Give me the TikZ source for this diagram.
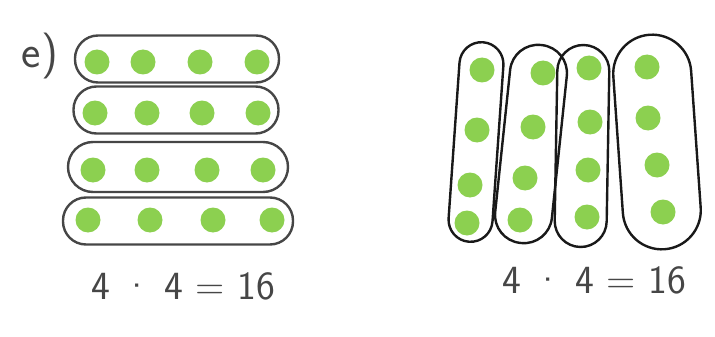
\documentclass[tikz,border=0pt]{standalone}
\usepackage{fontspec}
\definecolor{dotgreen}{RGB}{140,208,80}
\definecolor{pencil}{RGB}{70,70,70}
\definecolor{ink}{RGB}{25,25,25}
\tikzset{
  dot/.style={circle, fill=dotgreen, inner sep=0pt, minimum size=25pt},
  rowbox/.style={draw=pencil, line width=2.4pt, rounded corners=23pt, minimum height=47pt},
  colbox/.style={draw=ink, line width=2.4pt, inner sep=0pt},
  hand/.style={text=pencil, font=\sffamily\fontsize{40}{40}\selectfont}
}
\begin{document}
\begin{tikzpicture}[x=1pt,y=-1pt]
    \useasboundingbox (0,0) rectangle (715,337);
    % Rows of four
    \node[hand, font=\sffamily\fontsize{46}{46}\selectfont] (label) at (40,56) {e)};
    \node[rowbox, minimum width=204pt] (row1) at (177,59) {};
    \node[rowbox, minimum width=205pt] (row2) at (176,110) {};
    \node[rowbox, minimum width=220pt, minimum height=50pt, rounded corners=25pt] (row3) at (178,167) {};
    \node[rowbox, minimum width=230pt] (row4) at (178,221) {};
    \foreach \y/\xa/\xb/\xc/\xd [count=\r] in {62/97/143/200/257, 113/95/147/202/258, 170/93/147/207/263, 220/88/150/213/272}
      \foreach \x [count=\c] in {\xa,\xb,\xc,\xd}
        \node[dot] (p\r\c) at (\x,\y) {};
    \node[hand] (eqleft) at (183,286) {4 \textperiodcentered\ 4 = 16};
    % Columns of four
    \node[colbox, rounded corners=22pt, minimum width=44pt, minimum height=200pt, rotate=-4] (col1) at (476,142) {};
    \node[colbox, rounded corners=28pt, minimum width=57pt, minimum height=199pt, rotate=-6] (col2) at (531,144) {};
    \node[colbox, rounded corners=26pt, minimum width=52pt, minimum height=202pt, rotate=-1] (col3) at (582,146) {};
    \node[colbox, rounded corners=39pt, minimum width=78pt, minimum height=215pt, rotate=4] (col4) at (657,142) {};
    \foreach \pts [count=\c] in {{482/70,477/130,470/185,467/223}, {543/73,533/127,525/178,520/220}, {589/68,590/122,588/170,587/217}, {647/67,648/118,657/165,663/212}}
      \foreach \x/\y [count=\r] in \pts
        \node[dot] (q\c\r) at (\x,\y) {};
    \node[hand] (eqright) at (594,280) {4 \textperiodcentered\ 4 = 16};
\end{tikzpicture}
\end{document}
